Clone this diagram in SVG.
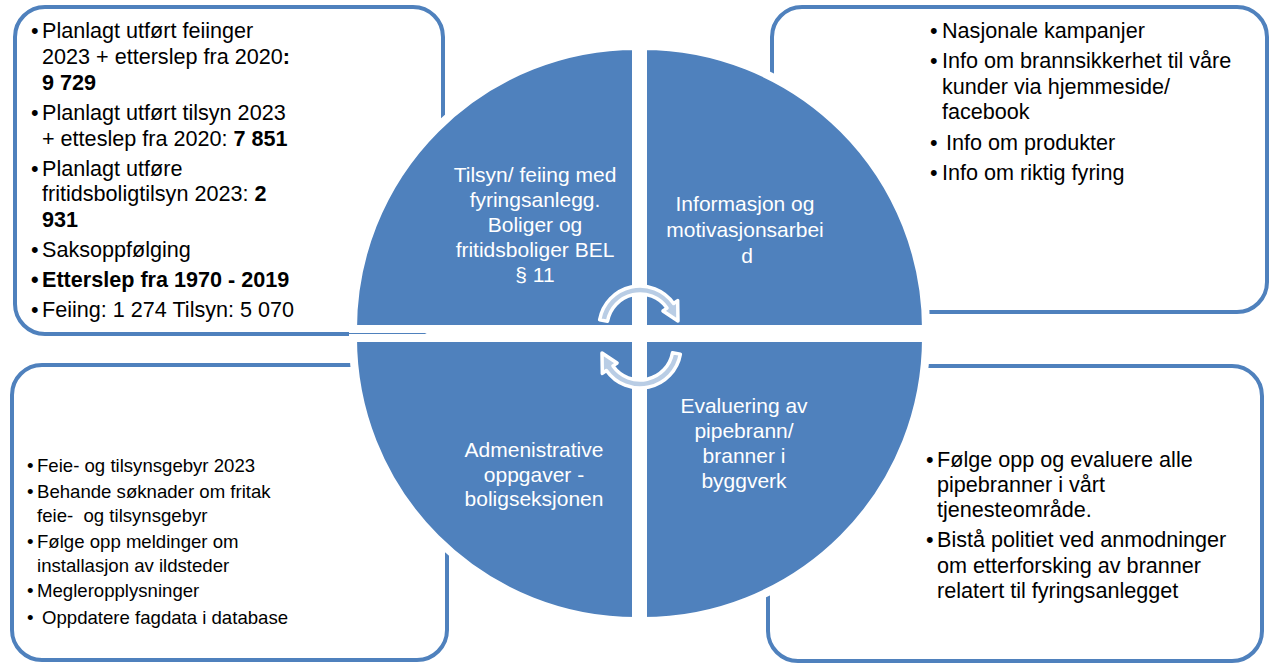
<svg xmlns="http://www.w3.org/2000/svg" width="1270" height="663" viewBox="0 0 1270 663">
<style>
.box{fill:#fff;stroke:#4F81BD;stroke-width:4}
.q{fill:#4F81BD;stroke:#fff;stroke-width:8}
.t{font-family:"Liberation Sans",Arial,sans-serif;font-size:21.6px;fill:#000;white-space:pre}
.ts{font-family:"Liberation Sans",Arial,sans-serif;font-size:18.6px;fill:#000;white-space:pre}
.qt{font-family:"Liberation Sans",Arial,sans-serif;font-size:21px;fill:#fff;text-anchor:middle}
.b{font-weight:bold}
.arr{fill:#B9CDE5;stroke:#fff;stroke-width:3.5;stroke-linejoin:round}
</style>
<rect width="1270" height="663" fill="#fff"/>
<g id="box-tl">
<rect class="box" x="15" y="7" width="428" height="327" rx="30"/>
<text class="t" y="38"><tspan x="31">•</tspan><tspan x="42">Planlagt utført feiinger</tspan></text>
<text class="t" x="42" y="64">2023 + etterslep fra 2020<tspan class="b">:</tspan></text>
<text class="t b" x="42" y="90">9 729</text>
<text class="t" y="120"><tspan x="31">•</tspan><tspan x="42">Planlagt utført tilsyn 2023</tspan></text>
<text class="t" x="42" y="146">+ etteslep fra 2020: <tspan class="b">7 851</tspan></text>
<text class="t" y="176"><tspan x="31">•</tspan><tspan x="42">Planlagt utføre</tspan></text>
<text class="t" x="42" y="201">fritidsboligtilsyn 2023: <tspan class="b">2</tspan></text>
<text class="t b" x="42" y="227">931</text>
<text class="t" y="257"><tspan x="31">•</tspan><tspan x="42">Saksoppfølging</tspan></text>
<text class="t b" y="287"><tspan x="31">•</tspan><tspan x="42">Etterslep fra 1970 - 2019</tspan></text>
<text class="t" y="317"><tspan x="31">•</tspan><tspan x="42">Feiing: 1 274 Tilsyn: 5 070</tspan></text>
</g>
<g id="box-tr">
<rect class="box" x="772" y="7" width="495" height="305" rx="30"/>
<text class="t" y="38"><tspan x="930">•</tspan><tspan x="942">Nasjonale kampanjer</tspan></text>
<text class="t" y="68"><tspan x="930">•</tspan><tspan x="942">Info om brannsikkerhet til våre</tspan></text>
<text class="t" x="942" y="94">kunder via hjemmeside/</text>
<text class="t" x="942" y="119">facebook</text>
<text class="t" y="150"><tspan x="930">•</tspan><tspan x="946">Info om produkter</tspan></text>
<text class="t" y="180"><tspan x="930">•</tspan><tspan x="942">Info om riktig fyring</tspan></text>
</g>
<g id="box-bl">
<rect class="box" x="12" y="365" width="435" height="295" rx="30"/>
<text class="ts" y="472"><tspan x="27">•</tspan><tspan x="37">Feie- og tilsynsgebyr 2023</tspan></text>
<text class="ts" y="498"><tspan x="27">•</tspan><tspan x="37">Behande søknader om fritak</tspan></text>
<text class="ts" x="37" y="522">feie-  og tilsynsgebyr</text>
<text class="ts" y="548"><tspan x="27">•</tspan><tspan x="37">Følge opp meldinger om</tspan></text>
<text class="ts" x="37" y="572">installasjon av ildsteder</text>
<text class="ts" y="597"><tspan x="27">•</tspan><tspan x="37">Megleropplysninger</tspan></text>
<text class="ts" y="624"><tspan x="27">•</tspan><tspan x="42">Oppdatere fagdata i database</tspan></text>
</g>
<g id="box-br">
<rect class="box" x="768" y="366" width="494" height="295" rx="30"/>
<text class="t" y="467"><tspan x="926">•</tspan><tspan x="937">Følge opp og evaluere alle</tspan></text>
<text class="t" x="937" y="492">pipebranner i vårt</text>
<text class="t" x="937" y="517">tjenesteområde.</text>
<text class="t" y="547"><tspan x="926">•</tspan><tspan x="937">Bistå politiet ved anmodninger</tspan></text>
<text class="t" x="937" y="573">om etterforsking av branner</text>
<text class="t" x="937" y="598">relatert til fyringsanlegget</text>
</g>
<g id="quad-tl">
<path class="q" d="M636 329 L353 329 A283 283 0 0 1 636 46 Z"/>
<text class="qt" x="535" y="182">Tilsyn/ feiing med</text>
<text class="qt" x="535" y="207">fyringsanlegg.</text>
<text class="qt" x="535" y="232">Boliger og</text>
<text class="qt" x="535" y="257">fritidsboliger BEL</text>
<text class="qt" x="535" y="282">§ 11</text>
</g>
<g id="quad-tr">
<path class="q" d="M643 329 L643 46 A283 283 0 0 1 926 329 Z"/>
<text class="qt" x="745" y="211">Informasjon og</text>
<text class="qt" x="745" y="237">motivasjonsarbei</text>
<text class="qt" x="747" y="263">d</text>
</g>
<g id="quad-bl">
<path class="q" d="M636 338 L636 621 A283 283 0 0 1 353 338 Z"/>
<text class="qt" x="534" y="457">Admenistrative</text>
<text class="qt" x="534" y="482">oppgaver -</text>
<text class="qt" x="534" y="506">boligseksjonen</text>
</g>
<g id="quad-br">
<path class="q" d="M643 338 L926 338 A283 283 0 0 1 643 621 Z"/>
<text class="qt" x="744" y="413">Evaluering av</text>
<text class="qt" x="744" y="438">pipebrann/</text>
<text class="qt" x="744" y="463">branner i</text>
<text class="qt" x="744" y="488">byggverk</text>
</g>
<g id="connectors">
<path class="arr" d="M599.62 319.88 A41 41 0 0 1 673.59 303.48 L677.68 300.61 L678 321 L662.94 310.94 L667.03 308.07 A33 33 0 0 0 607.5 321.27 Z"/>
<path class="arr" d="M680.38 354.12 A41 41 0 0 1 606.41 370.52 L602.32 373.39 L602 353 L617.06 363.06 L612.97 365.93 A33 33 0 0 0 672.5 352.73 Z"/>
</g>
</svg>
